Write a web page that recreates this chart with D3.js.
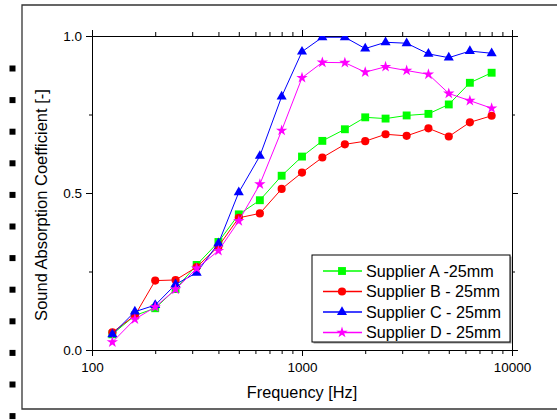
<!DOCTYPE html>
<html>
<head>
<meta charset="utf-8">
<script src="https://cdn.jsdelivr.net/npm/d3@7"></script>
<style>
  body { margin: 0; background: #fff; }
  svg { font-family: "Liberation Sans", Arial, sans-serif; }
  .axis path, .axis line { stroke: #000; stroke-width: 1px; }
  .axis text { font-size: 13.5px; fill: #000; }
</style>
</head>
<body>
<svg id="chart" width="557" height="420"></svg>
<script>
  // 1/3 octave band centre frequencies [Hz]
  const freqs = [125, 160, 200, 250, 315, 400, 500, 630, 800, 1000, 1250, 1600, 2000, 2500, 3150, 4000, 5000, 6300, 8000];

  const supplierA = [0.05, 0.11, 0.133, 0.194, 0.271, 0.344, 0.432, 0.477, 0.555, 0.616, 0.666, 0.703, 0.741, 0.737, 0.747, 0.752, 0.782, 0.851, 0.883];
  const supplierB = [0.056, 0.11, 0.221, 0.223, 0.264, 0.33, 0.421, 0.435, 0.513, 0.565, 0.613, 0.655, 0.665, 0.687, 0.682, 0.706, 0.68, 0.725, 0.746];
  const supplierC = [0.05, 0.122, 0.143, 0.209, 0.246, 0.34, 0.502, 0.618, 0.807, 0.95, 0.996, 0.996, 0.96, 0.98, 0.977, 0.943, 0.931, 0.952, 0.945];
  const supplierD = [0.025, 0.098, 0.137, 0.193, 0.26, 0.316, 0.411, 0.528, 0.699, 0.867, 0.916, 0.915, 0.885, 0.902, 0.89, 0.878, 0.817, 0.794, 0.77];

  const seriesNames = ["Supplier A -25mm", "Supplier B - 25mm", "Supplier C - 25mm", "Supplier D - 25mm"];
  const seriesColors = ["#00ff00", "#ff0000", "#0000ff", "#ff00ff"];

  const xMajor = [100, 1000, 10000];
  const xMinor = [200, 300, 400, 500, 600, 700, 800, 900, 2000, 3000, 4000, 5000, 6000, 7000, 8000, 9000];
  const yMajor = [0, 0.5, 1.0];
  const yMinor = [0.25, 0.75];

  const series = [supplierA, supplierB, supplierC, supplierD].map((vals, i) => ({
    name: seriesNames[i],
    color: seriesColors[i],
    symbol: [d3.symbolSquare, d3.symbolCircle, d3.symbolTriangle, d3.symbolStar][i],
    size: [62, 52, 44, 40][i],
    values: vals.map((v, j) => ({ f: freqs[j], v: v }))
  }));

  const margin = { left: 92, top: 36, right: 45, bottom: 70 };
  const plotW = 512 - margin.left;
  const plotH = 350 - margin.top;

  const svg = d3.select("#chart");

  // page frame and the stray bullets on the left
  svg.append("path")
    .attr("d", "M560,5H22V409H560")
    .attr("fill", "none")
    .attr("stroke", "#333")
    .attr("stroke-width", 1.3);

  svg.append("g")
    .selectAll("rect")
    .data(d3.range(12))
    .join("rect")
    .attr("x", 9.5)
    .attr("y", (d) => 65.5 + d * 31.6)
    .attr("width", 6)
    .attr("height", 6)
    .attr("fill", "#000");

  const x = d3.scaleLog().domain([100, 10000]).range([0, plotW]);
  const y = d3.scaleLinear().domain([0, 1]).range([plotH, 0]);

  const g = svg.append("g").attr("transform", `translate(${margin.left},${margin.top})`);

  g.append("clipPath")
    .attr("id", "clip")
    .append("rect")
    .attr("width", plotW)
    .attr("height", plotH);

  const fmt = d3.format(".1f");

  // bottom
  g.append("g").attr("class", "axis")
    .attr("transform", `translate(0,${plotH})`)
    .call(d3.axisBottom(x).tickValues(xMajor).tickFormat(d3.format("d")).tickSize(6).tickSizeOuter(0).tickPadding(6));
  g.append("g").attr("class", "axis")
    .attr("transform", `translate(0,${plotH})`)
    .call(d3.axisBottom(x).tickValues(xMinor).tickFormat("").tickSize(4).tickSizeOuter(0));
  // top
  g.append("g").attr("class", "axis")
    .call(d3.axisTop(x).tickValues(xMajor).tickFormat("").tickSize(6).tickSizeOuter(0));
  g.append("g").attr("class", "axis")
    .call(d3.axisTop(x).tickValues(xMinor).tickFormat("").tickSize(4).tickSizeOuter(0));
  // left
  g.append("g").attr("class", "axis")
    .call(d3.axisLeft(y).tickValues(yMajor).tickFormat(fmt).tickSize(6).tickSizeOuter(0).tickPadding(4));
  g.append("g").attr("class", "axis")
    .call(d3.axisLeft(y).tickValues(yMinor).tickFormat("").tickSize(3).tickSizeOuter(0));
  // right
  g.append("g").attr("class", "axis")
    .attr("transform", `translate(${plotW},0)`)
    .call(d3.axisRight(y).tickValues(yMajor).tickFormat("").tickSize(6).tickSizeOuter(0));
  g.append("g").attr("class", "axis")
    .attr("transform", `translate(${plotW},0)`)
    .call(d3.axisRight(y).tickValues(yMinor).tickFormat("").tickSize(3).tickSizeOuter(0));

  const line = d3.line().x((d) => x(d.f)).y((d) => y(d.v));

  const plot = g.append("g").attr("clip-path", "url(#clip)");

  series.forEach((s) => {
    plot.append("path")
      .datum(s.values)
      .attr("fill", "none")
      .attr("stroke", s.color)
      .attr("stroke-width", 1)
      .attr("d", line);
    plot.append("g")
      .selectAll("path")
      .data(s.values)
      .join("path")
      .attr("transform", (d) => `translate(${x(d.f)},${y(d.v)})`)
      .attr("d", d3.symbol(s.symbol, s.size))
      .attr("fill", s.color);
  });

  // axis titles
  svg.append("text")
    .attr("x", margin.left + plotW / 2)
    .attr("y", 398)
    .attr("text-anchor", "middle")
    .attr("font-size", 16.3)
    .text("Frequency [Hz]");

  svg.append("text")
    .attr("transform", "translate(47,205) rotate(-90)")
    .attr("text-anchor", "middle")
    .attr("font-size", 16.5)
    .text("Sound Absorption Coefficient [-]");

  // legend
  const legend = svg.append("g").attr("transform", "translate(312,255)");
  legend.append("rect")
    .attr("x", 1.5).attr("y", 1.5)
    .attr("width", 198).attr("height", 87)
    .attr("fill", "#999");
  legend.append("rect")
    .attr("width", 198).attr("height", 87)
    .attr("fill", "#fff")
    .attr("stroke", "#000")
    .attr("stroke-width", 1);

  const item = legend.selectAll("g.item")
    .data(series)
    .join("g")
    .attr("class", "item")
    .attr("transform", (d, i) => `translate(0,${16 + i * 20.5})`);

  item.append("line")
    .attr("x1", 11).attr("x2", 50)
    .attr("stroke", (d) => d.color)
    .attr("stroke-width", 1.5);
  item.append("path")
    .attr("transform", "translate(30,0)")
    .attr("d", (d) => d3.symbol(d.symbol, d.size)())
    .attr("fill", (d) => d.color);
  item.append("text")
    .attr("x", 54)
    .attr("y", 5.8)
    .attr("font-size", 16.2)
    .text((d) => d.name);
</script>
</body>
</html>
